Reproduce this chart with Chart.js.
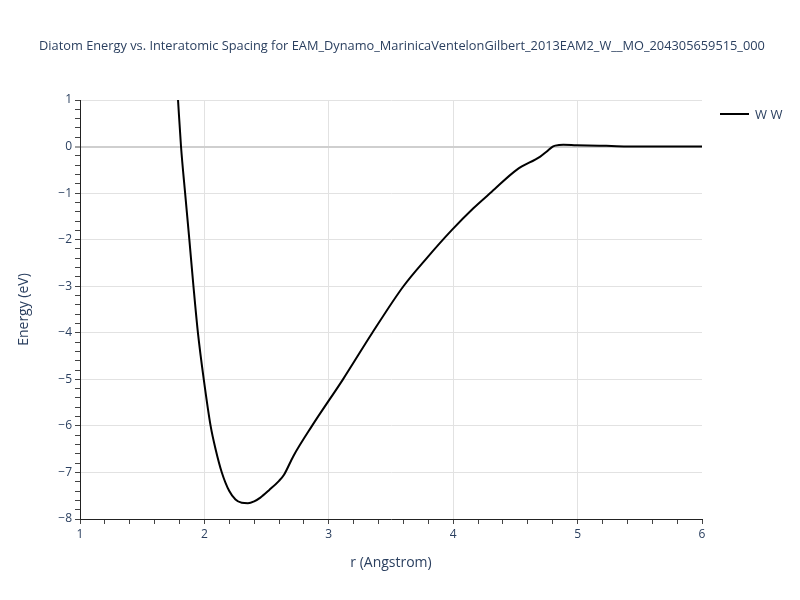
<!DOCTYPE html>
<html>
<head>
  <meta charset="UTF-8">
  <title>Diatom Energy</title>
  <script src="https://cdn.jsdelivr.net/npm/chart.js"></script>
  <style>
    body { margin: 0; background: #fff; }
    #wrap { width: 800px; height: 600px; }
  </style>
</head>
<body>
  <div id="wrap"><canvas id="chart" width="800" height="600"></canvas></div>
  <script>
  // values
  const rValues = [1.788, 1.812, 1.845, 1.879, 1.912, 1.948, 1.995, 2.05, 2.09, 2.14,
    2.20, 2.25, 2.30, 2.35, 2.40, 2.45, 2.52, 2.60, 2.64, 2.715,
    2.865, 3.114, 3.35, 3.60, 3.786, 3.99, 4.16, 4.31, 4.51, 4.70,
    4.75, 4.80, 4.82, 4.885, 4.99, 5.23, 5.5, 6.0];
  const energyValues = [1.0, 0.0, -1.0, -2.0, -3.0, -4.0, -5.0, -6.0, -6.5, -7.0,
    -7.40, -7.58, -7.65, -7.66, -7.62, -7.54, -7.38, -7.18, -7.05, -6.65,
    -6.0, -5.0, -4.0, -3.0, -2.40, -1.79, -1.33, -0.97, -0.5, -0.215,
    -0.11, 0.0, 0.02, 0.04, 0.03, 0.015, 0.0, 0.0];
  const seriesName = 'W W';
  const chartTitle = 'Diatom Energy vs. Interatomic Spacing for EAM_Dynamo_MarinicaVentelonGilbert_2013EAM2_W__MO_204305659515_000';

  const textColor = '#2a3f5f';
  const fontFamily = '"Open Sans", "Noto Sans", sans-serif';

  const isWhole = v => Math.abs(v - Math.round(v)) < 1e-6;
  const fmt = v => {
    const n = Math.round(v);
    return n < 0 ? '\u2212' + Math.abs(n) : String(n);
  };

  // title and legend drawn by hand, plotly-like placement
  const extras = {
    id: 'extras',
    afterDraw(chart) {
      const ctx = chart.ctx;
      ctx.save();
      ctx.fillStyle = textColor;
      ctx.font = '12.8px ' + fontFamily;
      ctx.textAlign = 'center';
      ctx.textBaseline = 'middle';
      ctx.fillText(chartTitle, 402, 46);

      ctx.strokeStyle = '#000';
      ctx.lineWidth = 2;
      ctx.beginPath();
      ctx.moveTo(720, 114);
      ctx.lineTo(749, 114);
      ctx.stroke();
      ctx.font = '13px ' + fontFamily;
      ctx.textAlign = 'left';
      ctx.fillText(seriesName, 755, 115);
      ctx.restore();
    }
  };

  new Chart(document.getElementById('chart'), {
    type: 'scatter',
    data: {
      datasets: [{
        label: seriesName,
        data: rValues.map((r, i) => ({ x: r, y: energyValues[i] })),
        showLine: true,
        borderColor: '#000',
        borderWidth: 2,
        pointRadius: 0,
        cubicInterpolationMode: 'monotone'
      }]
    },
    options: {
      responsive: false,
      animation: false,
      layout: { padding: { top: 100, right: 98, bottom: 25, left: 12 } },
      plugins: { legend: { display: false }, title: { display: false }, tooltip: { enabled: false } },
      scales: {
        x: {
          type: 'linear',
          min: 1, max: 6,
          afterFit: s => { s.height = 56; },
          border: { color: '#222', width: 1 },
          grid: {
            color: c => isWhole(c.tick.value) && c.tick.value > 1 && c.tick.value < 6 ? '#e2e2e2' : 'transparent',
            tickColor: '#444',
            tickLength: 5
          },
          ticks: {
            stepSize: 0.2,
            autoSkip: false,
            maxRotation: 0,
            color: textColor,
            font: { family: fontFamily, size: 12 },
            callback: v => isWhole(v) ? fmt(v) : ''
          },
          title: { display: true, text: 'r (Angstrom)', color: textColor, font: { family: fontFamily, size: 14 } }
        },
        y: {
          type: 'linear',
          min: -8, max: 1,
          afterFit: s => { s.width = 68; },
          border: { color: '#222', width: 1 },
          grid: {
            color: c => {
              const v = c.tick.value;
              if (!isWhole(v) || v <= -8) return 'transparent';
              return Math.round(v) === 0 ? '#cfcfcf' : '#e2e2e2';
            },
            lineWidth: c => Math.abs(c.tick.value) < 1e-6 ? 2 : 1,
            tickColor: '#444',
            tickWidth: 1,
            tickLength: 5
          },
          ticks: {
            stepSize: 0.2,
            autoSkip: false,
            color: textColor,
            font: { family: fontFamily, size: 12 },
            callback: v => isWhole(v) ? fmt(v) : ''
          },
          title: { display: true, text: 'Energy (eV)', color: textColor, font: { family: fontFamily, size: 14 } }
        }
      }
    },
    plugins: [extras]
  });
  </script>
</body>
</html>
